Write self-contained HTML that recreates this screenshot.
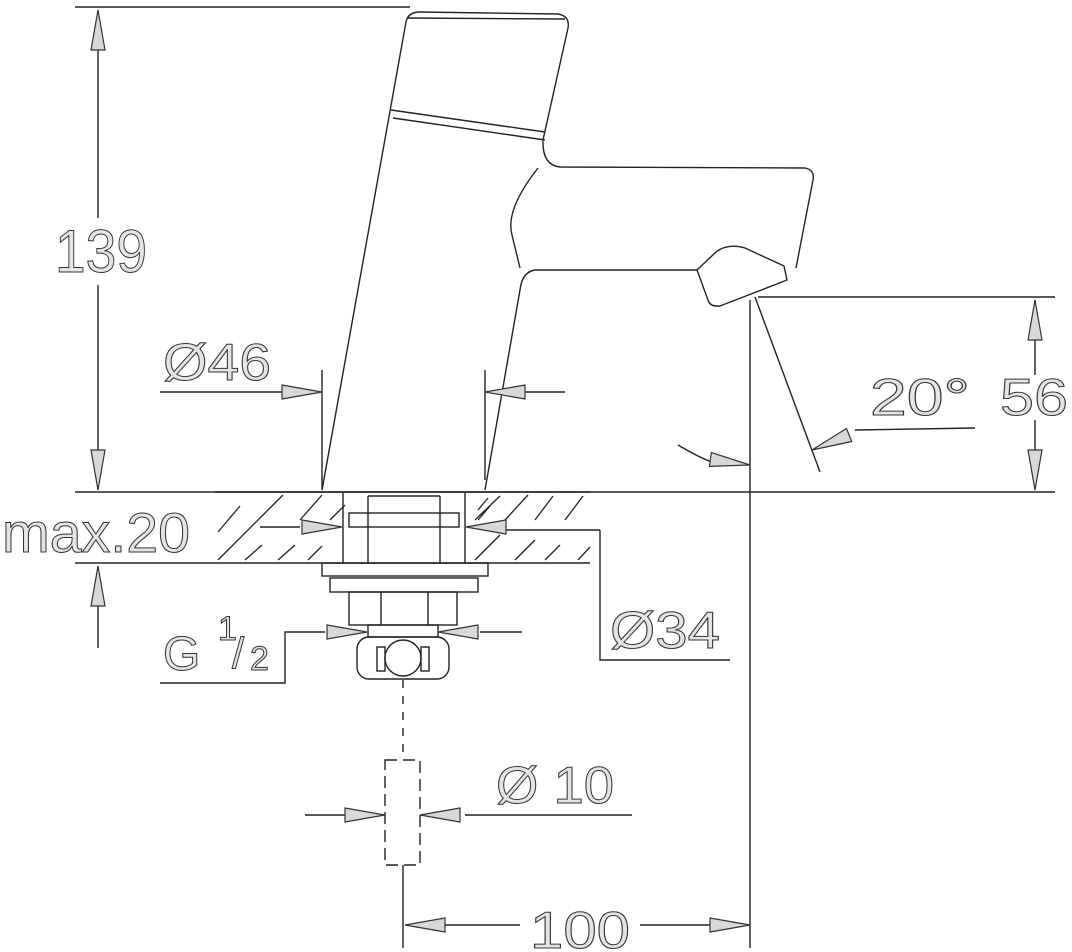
<!DOCTYPE html>
<html><head><style>html,body{margin:0;padding:0;background:#fff}svg{display:block}
text{font-family:"Liberation Sans",sans-serif;fill:#e4e4e4;stroke:#333;stroke-width:1}</style></head>
<body>
<svg width="1072" height="952" viewBox="0 0 1072 952" xmlns="http://www.w3.org/2000/svg">
<defs>
<g id="ar"><polygon points="0,0 40,-7 40,7" fill="#d8d8d8" stroke="#333" stroke-width="1.2"/></g>
</defs>
<g fill="none" stroke="#222" stroke-width="1.4">
<!-- top line and 139 dim -->
<line x1="75" y1="7" x2="410" y2="7"/>
<line x1="98" y1="10" x2="98" y2="218"/>
<line x1="98" y1="285" x2="98" y2="490"/>
<!-- floor lines -->
<line x1="75" y1="492" x2="1055" y2="492"/>
<line x1="75" y1="563" x2="590" y2="563"/>
<line x1="98" y1="566" x2="98" y2="648"/>
<!-- slab -->
<line x1="215" y1="492" x2="590" y2="492"/>
<line x1="343" y1="492" x2="343" y2="563"/>
<line x1="465" y1="492" x2="465" y2="563"/>
<g stroke-width="1.3">
<line x1="218" y1="532" x2="240" y2="506"/><line x1="218" y1="560" x2="283" y2="495"/>
<line x1="300" y1="520" x2="322" y2="495"/><line x1="330" y1="520" x2="345" y2="505"/>
<line x1="245" y1="560" x2="262" y2="545"/><line x1="278" y1="560" x2="295" y2="545"/><line x1="308" y1="560" x2="322" y2="546"/>
<line x1="478" y1="520" x2="490" y2="506"/><line x1="478" y1="510" x2="488" y2="498"/>
<line x1="475" y1="560" x2="500" y2="535"/><line x1="475" y1="520" x2="500" y2="496"/>
<line x1="505" y1="520" x2="528" y2="495"/><line x1="535" y1="520" x2="553" y2="496"/><line x1="565" y1="520" x2="583" y2="496"/>
<line x1="515" y1="560" x2="535" y2="540"/><line x1="545" y1="560" x2="560" y2="545"/><line x1="578" y1="560" x2="590" y2="547"/>
</g>
<!-- fittings -->
<rect x="349" y="513" width="110" height="14"/>
<line x1="368" y1="496" x2="440" y2="496"/>
<line x1="368" y1="496" x2="368" y2="563"/><line x1="440" y1="496" x2="440" y2="563"/>
<rect x="322" y="563" width="166" height="13"/>
<rect x="330" y="578" width="148" height="14"/>
<rect x="349" y="592" width="108" height="33"/>
<line x1="381" y1="592" x2="381" y2="625"/><line x1="428" y1="592" x2="428" y2="625"/>
<rect x="368" y="625" width="70" height="12"/>
<rect x="357" y="637" width="92" height="42" rx="12"/>
<rect x="377" y="647" width="8" height="24"/><rect x="421" y="647" width="8" height="24"/>
<circle cx="403" cy="658" r="18"/>
<line x1="403" y1="680" x2="403" y2="760" stroke-dasharray="8 8"/>
<rect x="385" y="760" width="35" height="105" stroke-dasharray="12 6"/>
<line x1="403" y1="865" x2="403" y2="948"/>
<!-- body -->
<path d="M322,490 L406,22 Q408,12 420,12 L558,14 Q570,16 568,28 L543,140 Q542,165 560,167 L805,168 Q815,170 813,180 L796,268"/>
<path d="M391,110 L545,132 M393,118 L545,140"/>
<path d="M407,18 L565,19"/>
<path d="M538,168 Q505,210 512,235 L520,268"/>
<path d="M697,270 L535,270 Q522,272 520,290 L485,490"/>
<path d="M697,270 L716,252 Q728,243 745,248 L784,266 L787,280 L720,306 Q710,307 708,300 Z"/>
<!-- right dims -->
<line x1="758" y1="297" x2="1055" y2="297"/>
<line x1="750" y1="300" x2="750" y2="948"/>
<line x1="1035" y1="300" x2="1035" y2="375"/>
<line x1="1035" y1="420" x2="1035" y2="490"/>
<line x1="755" y1="297" x2="820" y2="472"/>
<line x1="855" y1="430" x2="975" y2="428"/>
<path d="M678,445 Q700,458 712,462"/>
<!-- Ø46 -->
<line x1="160" y1="392" x2="285" y2="392"/>
<line x1="322" y1="370" x2="322" y2="490"/>
<line x1="485" y1="370" x2="485" y2="480"/>
<line x1="525" y1="392" x2="565" y2="392"/>
<!-- Ø34 -->
<line x1="505" y1="530" x2="600" y2="530"/>
<polyline points="600,530 600,660 730,660"/>
<line x1="260" y1="527" x2="300" y2="527"/>
<!-- G1/2 -->
<polyline points="325,632 285,632 285,683 160,683"/>
<line x1="480" y1="632" x2="522" y2="632"/>
<!-- Ø10 -->
<line x1="305" y1="815" x2="345" y2="815"/>
<line x1="465" y1="815" x2="632" y2="815"/>
<!-- 100 -->
<line x1="445" y1="925" x2="520" y2="925"/>
<line x1="640" y1="925" x2="710" y2="925"/>
</g>
<!-- arrows -->
<use href="#ar" transform="translate(98,10) rotate(90)"/>
<use href="#ar" transform="translate(98,490) rotate(-90)"/>
<use href="#ar" transform="translate(98,566) rotate(90)"/>
<use href="#ar" transform="translate(1035,300) rotate(90)"/>
<use href="#ar" transform="translate(1035,490) rotate(-90)"/>
<use href="#ar" transform="translate(322,392) rotate(180)"/>
<use href="#ar" transform="translate(485,392)"/>
<use href="#ar" transform="translate(342,527) rotate(180)"/>
<use href="#ar" transform="translate(466,527)"/>
<use href="#ar" transform="translate(367,632) rotate(180)"/>
<use href="#ar" transform="translate(438,632)"/>
<use href="#ar" transform="translate(385,815) rotate(180)"/>
<use href="#ar" transform="translate(420,815)"/>
<use href="#ar" transform="translate(405,925)"/>
<use href="#ar" transform="translate(750,925) rotate(180)"/>
<use href="#ar" transform="translate(812,450) rotate(-22)"/>
<use href="#ar" transform="translate(750,465) rotate(188)"/>
<!-- labels -->
<text x="55" y="272" font-size="60" textLength="92" lengthAdjust="spacingAndGlyphs">139</text>
<text x="163" y="380" font-size="52" textLength="108" lengthAdjust="spacingAndGlyphs">Ø46</text>
<text x="2" y="552" font-size="56" textLength="188" lengthAdjust="spacingAndGlyphs">max.20</text>
<text x="870" y="415" font-size="52" textLength="100" lengthAdjust="spacingAndGlyphs">20°</text>
<text x="1000" y="415" font-size="52" textLength="68" lengthAdjust="spacingAndGlyphs">56</text>
<text x="610" y="648" font-size="52" textLength="110" lengthAdjust="spacingAndGlyphs">Ø34</text>
<text x="163" y="670" font-size="48">G</text>
<text x="218" y="640" font-size="34">1</text>
<text x="232" y="668" font-size="44">/</text>
<text x="250" y="670" font-size="34">2</text>
<text x="496" y="803" font-size="52" textLength="118" lengthAdjust="spacingAndGlyphs">Ø 10</text>
<text x="530" y="948" font-size="52" textLength="100" lengthAdjust="spacingAndGlyphs">100</text>
</svg>
</body></html>
